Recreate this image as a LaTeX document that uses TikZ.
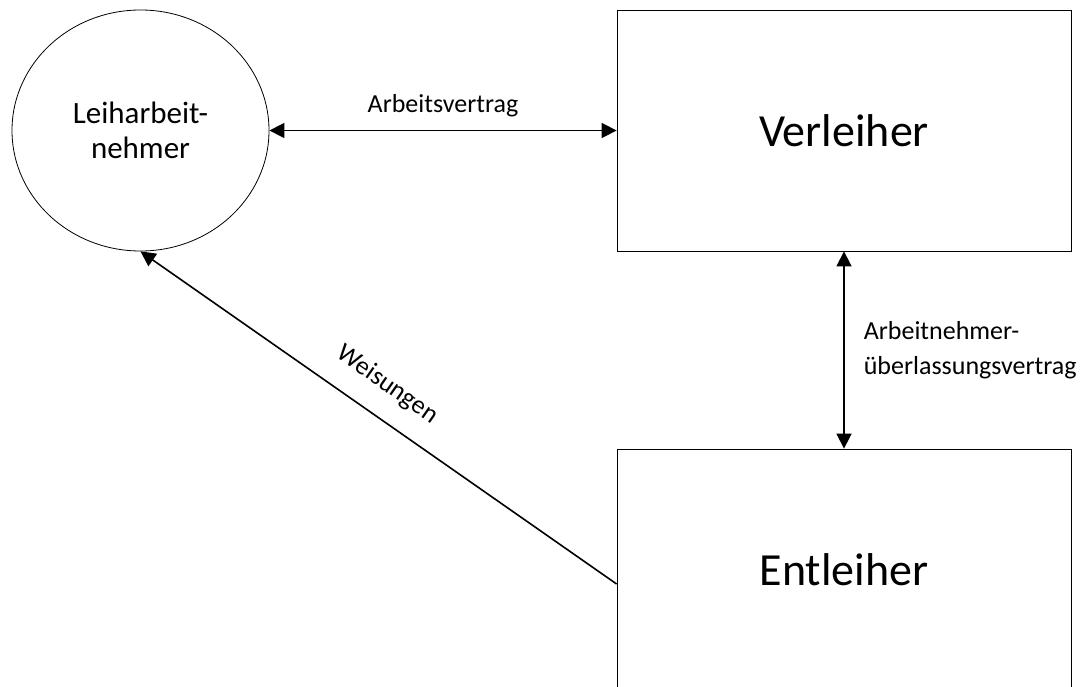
\documentclass[tikz,border=0pt]{standalone}
\usepackage{fontspec}
\setmainfont{Carlito}
\usetikzlibrary{shapes.geometric,arrows.meta}
\begin{document}
\begin{tikzpicture}[x=1pt,y=-1pt,
  box/.style={draw=black, line width=0.8pt, minimum width=454pt, minimum height=241pt, inner sep=0pt, font=\fontsize{46}{55}\selectfont},
  circ/.style={draw=black, ellipse, line width=0.8pt, minimum width=257pt, minimum height=241pt, inner sep=0pt, align=center, font=\fontsize{31}{35}\selectfont},
  lab/.style={inner sep=0pt, font=\fontsize{26}{35}\selectfont},
  tip/.tip={Triangle[length=15pt,width=15pt]},
  dbl/.style={line width=1.6pt, tip-tip},
  back/.style={line width=1.6pt, tip-}]
\useasboundingbox (0,0) rectangle (1086,687);
\clip (0,0) rectangle (1086,687);
\node[circ] (L) at (140.5,130.5) {Leiharbeit-\\nehmer};
\node[box] (V) at (844,130.5) {Verleiher};
\node[box] (E) at (844,569.5) {Entleiher};
\draw[dbl] (L.east) -- node[lab, above=12.5pt]{Arbeitsvertrag} (V.west);
\draw[dbl] (V.south) -- node[lab, right=19pt, align=left]{Arbeitnehmer-\\überlassungsvertrag} (E.north);
\draw[back] (L.south) -- node[lab, sloped, pos=0.48, above=20pt]{Weisungen} ([yshift=-14.5pt]E.west);
\end{tikzpicture}
\end{document}
